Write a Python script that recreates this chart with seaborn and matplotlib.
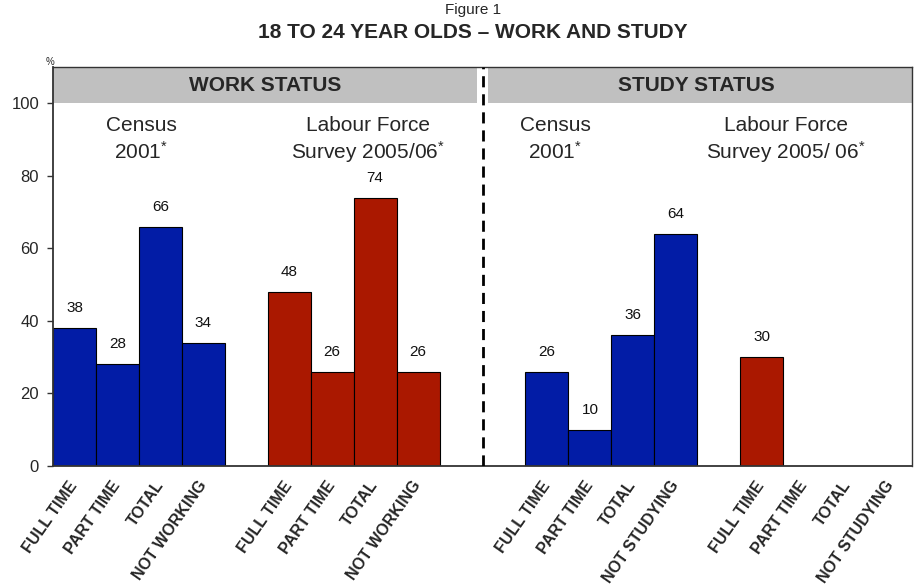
import numpy as np
import pandas as pd
import matplotlib
matplotlib.use("Agg")
import matplotlib.pyplot as plt
import seaborn as sns

# --- data -------------------------------------------------------------
work_labels = ["FULL TIME", "PART TIME", "TOTAL", "NOT WORKING"]
study_labels = ["FULL TIME", "PART TIME", "TOTAL", "NOT STUDYING"]

census_work = [38, 28, 66, 34]
lfs_work = [48, 26, 74, 26]
census_study = [26, 10, 36, 64]
lfs_study = [30, np.nan, np.nan, np.nan]

group_sources = ["Census", "LFS", "Census", "LFS"]
group_values = [census_work, lfs_work, census_study, lfs_study]
group_labels = [work_labels, work_labels, study_labels, study_labels]
group_start = [0, 5, 11, 16]   # first slot of each group of four bars

y_ticks = [0, 20, 40, 60, 80, 100]

rows = []
for start, src, vals, labs in zip(group_start, group_sources, group_values, group_labels):
    for i, (v, lab) in enumerate(zip(vals, labs)):
        rows.append({"pos": start + i, "value": v, "source": src, "label": lab})
df = pd.DataFrame(rows)

# --- style ------------------------------------------------------------
sns.set_style("white")
plt.rcParams["font.family"] = ["Liberation Sans", "DejaVu Sans"]
plt.rcParams["mathtext.fontset"] = "custom"
plt.rcParams["mathtext.rm"] = "Liberation Sans"
plt.rcParams["mathtext.it"] = "Liberation Sans"

palette = {"Census": "#021ca6", "LFS": "#aa1800"}

fig = plt.figure(figsize=(9.17, 5.85), dpi=100)
ax = fig.add_axes([53 / 917, (585 - 466) / 585, (912 - 53) / 917, (466 - 67) / 585])

sns.barplot(data=df.dropna(subset=["value"]), x="pos", y="value", hue="source",
            palette=palette, saturation=1, native_scale=True, dodge=False, width=1.0,
            edgecolor="black", linewidth=0.8, legend=False, ax=ax, errorbar=None)

ax.set_xlim(-0.5, 19.5)
ax.set_ylim(0, 110)

# value labels above bars
for _, r in df.dropna(subset=["value"]).iterrows():
    ax.text(r["pos"], r["value"] + 5.5, f"{r['value']:.0f}", ha="center", va="center",
            fontsize=11, color="#111111")

# header bands
ax.fill_between([-0.5, 9.38], 100, 110, color="#c0c0c0", zorder=1, linewidth=0)
ax.fill_between([9.62, 19.5], 100, 110, color="#c0c0c0", zorder=1, linewidth=0)
ax.text(4.45, 105, "WORK STATUS", ha="center", va="center", fontsize=15, fontweight="bold")
ax.text(14.48, 105, "STUDY STATUS", ha="center", va="center", fontsize=15, fontweight="bold")

# divider between the two panels
ax.axvline(9.5, color="black", lw=2, linestyle=(0, (4, 2.5)), zorder=3)

# source captions
captions = [
    (1.55, "Census", "2001$^{*}$"),
    (6.83, "Labour Force", "Survey 2005/06$^{*}$"),
    (11.2, "Census", "2001$^{*}$"),
    (16.57, "Labour Force", "Survey 2005/ 06$^{*}$"),
]
for x, l1, l2 in captions:
    ax.text(x, 93.9, l1, ha="center", va="center", fontsize=15)
    ax.text(x, 86.5, l2, ha="center", va="center", fontsize=15)

# axes
ax.set_yticks(y_ticks)
ax.set_yticklabels([str(t) for t in y_ticks], fontsize=12)
ax.set_xticks(df["pos"].tolist())
ax.set_xticklabels(df["label"].tolist(), rotation=55, ha="right", va="center",
                   rotation_mode="anchor", fontsize=11.5, fontweight="bold")
ax.tick_params(axis="x", length=0, pad=12)
ax.tick_params(axis="y", length=4, width=1, color="#333333", pad=6, left=True)
ax.set_xlabel("")
ax.set_ylabel("")
for s in ax.spines.values():
    s.set_visible(True)
    s.set_color("#333333")
    s.set_linewidth(1)
ax.spines["left"].set_linewidth(1.3)
ax.spines["bottom"].set_linewidth(1.3)

fig.text(0.054, 0.894, "%", fontsize=7, ha="center", va="center")
fig.text(473 / 917, 1 - 10 / 585, "Figure 1", ha="center", va="center", fontsize=11)
fig.text(473 / 917, 1 - 33 / 585, "18 TO 24 YEAR OLDS \u2013 WORK AND STUDY",
         ha="center", va="center", fontsize=15, fontweight="bold")

fig.savefig("out.png", dpi=100)
